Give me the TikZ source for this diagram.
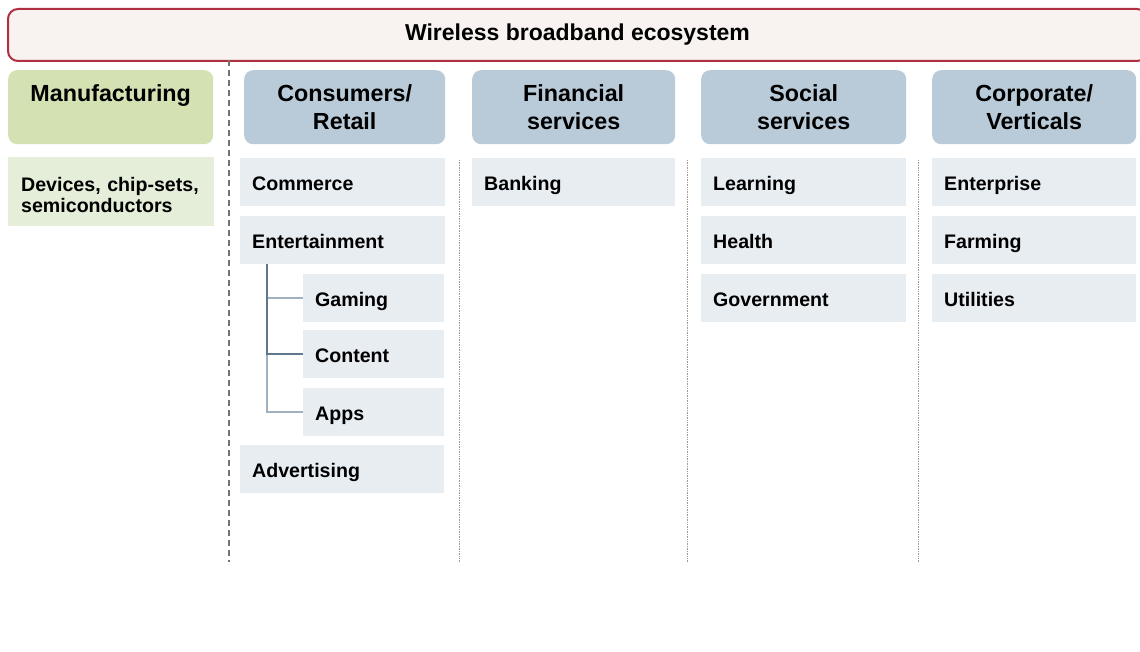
\documentclass[tikz,border=0pt]{standalone}
\usepackage{fontspec}
\setmainfont{Liberation Sans}
\definecolor{bannerfill}{HTML}{F8F3F0}
\definecolor{bannerline}{HTML}{B0303F}
\definecolor{headblue}{HTML}{B9CBD9}
\definecolor{headgreen}{HTML}{D3E1B3}
\definecolor{itemblue}{HTML}{E8EDF2}
\definecolor{itemgreen}{HTML}{E5EED8}
\definecolor{stemdark}{HTML}{5F768D}
\definecolor{stemlight}{HTML}{9FB0C0}
\begin{document}
\begin{tikzpicture}[x=1pt,y=-1pt,
	every node/.style={inner sep=0,anchor=north west},
	banner/.style={rounded corners=10pt,draw=bannerline,line width=2pt,fill=bannerfill,
		minimum width=1139pt,minimum height=52pt,font=\fontsize{23}{26}\bfseries\selectfont},
	head/.style={rounded corners=9pt,fill=headblue,minimum width=#1,minimum height=74pt,
		align=center,font=\fontsize{23.3}{28}\bfseries\selectfont},
	item/.style={fill=itemblue,text width=#1,inner xsep=12pt,minimum height=48pt,
		text height=18pt,text depth=1pt,
		align=left,font=\fontsize{19.6}{21}\bfseries\selectfont},
	branch/.style={stemlight,line width=1.6pt},
	divider/.style={gray!80,densely dotted,line width=0.7pt}]
\useasboundingbox (0,0) rectangle (1140,652);

\node[banner] (eco) at (7,8) {Wireless broadband ecosystem};

\node[head=205pt,fill=headgreen] (manu) at (8,70) {Manufacturing\\ \mbox{}};
\node[head=201pt] (cons) at (244,70) {Consumers/\\Retail};
\node[head=203pt] (fin) at (472,70) {Financial\\services};
\node[head=205pt] (soc) at (701,70) {Social\\services};
\node[head=204pt] (corp) at (932,70) {Corporate/\\Verticals};

\node[item=180pt,fill=itemgreen,inner xsep=13pt,minimum height=69pt,text height=,text depth=14pt] (dev) at (8,157)
	{Devices, chip-sets,\\semiconductors};

\node[item=181pt] (comm) at (240,158) {Commerce};
\node[item=181pt] (ent) at (240,216) {Entertainment};
\node[item=117pt] (gam) at (303,274) {Gaming};
\node[item=117pt] (cont) at (303,330) {Content};
\node[item=117pt] (apps) at (303,388) {Apps};
\node[item=180pt] (adv) at (240,445) {Advertising};

\node[item=179pt] (bank) at (472,158) {Banking};

\node[item=181pt] (learn) at (701,158) {Learning};
\node[item=181pt] (health) at (701,216) {Health};
\node[item=181pt] (gov) at (701,274) {Government};

\node[item=180pt] (ent2) at (932,158) {Enterprise};
\node[item=180pt] (farm) at (932,216) {Farming};
\node[item=180pt] (util) at (932,274) {Utilities};

\coordinate (stem) at (267,264);
\draw[branch] (stem) |- (gam.west);
\draw[branch] (stem) |- (apps.west);
\draw[branch,stemdark,line width=2pt] (stem) |- (cont.west);

\draw[dashed,gray!90!black,line width=1.3pt,dash pattern=on 6pt off 4pt] (229,60) -- (229,562);
\draw[divider] (459,160) -- (459,562);
\draw[divider] (687,160) -- (687,562);
\draw[divider] (918,160) -- (918,562);
\end{tikzpicture}
\end{document}
